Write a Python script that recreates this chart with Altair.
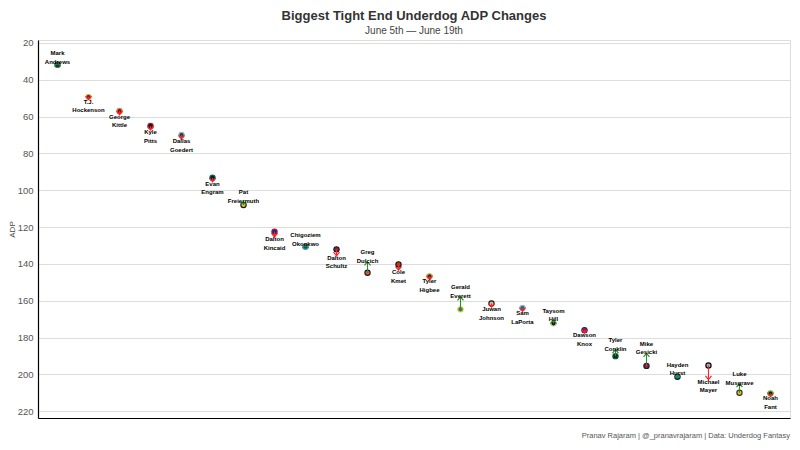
import altair as alt
import pandas as pd

first_names = ["Mark", "T.J.", "George", "Kyle", "Dallas", "Evan", "Pat", "Dalton",
               "Chigoziem", "Dalton", "Greg", "Cole", "Tyler", "Gerald", "Juwan", "Sam",
               "Taysom", "Dawson", "Tyler", "Mike", "Hayden", "Michael", "Luke", "Noah"]
last_names = ["Andrews", "Hockenson", "Kittle", "Pitts", "Goedert", "Engram", "Freiermuth",
              "Kincaid", "Okonkwo", "Schultz", "Dulcich", "Kmet", "Higbee", "Everett",
              "Johnson", "LaPorta", "Hill", "Knox", "Conklin", "Gesicki", "Hurst", "Mayer",
              "Musgrave", "Fant"]
adp_june5 = [31.8, 49.3, 57.0, 65.1, 70.0, 93.2, 108.0, 122.5, 130.7, 132.1, 144.8, 140.3,
             146.8, 164.7, 161.5, 163.9, 172.3, 176.0, 190.1, 195.4, 201.3, 195.2, 210.0, 210.4]
adp_june19 = [30.8, 50.8, 59.0, 67.3, 72.2, 95.4, 106.2, 125.4, 129.5, 135.6, 138.9, 143.4,
              148.3, 157.9, 163.5, 165.7, 170.5, 177.6, 186.5, 188.6, 199.9, 202.8, 205.0, 211.9]
team_fill = ["#241773", "#4F2683", "#AA0000", "#111111", "#004C54", "#101820", "#FFB612",
             "#00338D", "#0C5A5A", "#A71930", "#FB4F14", "#C83803", "#003594", "#0080C6",
             "#D3BC8D", "#0076B6", "#101820", "#C60C30", "#0B2E20", "#C60C30", "#0085CA",
             "#A5ACAF", "#FFB612", "#002244"]
team_stroke = ["#1a5c1a", "#FFC62F", "#B3995D", "#A71930", "#A5ACAF", "#006778", "#101820",
               "#C60C30", "#4B92DB", "#03202F", "#002244", "#0B162A", "#FFA300", "#FFC20E",
               "#101820", "#B0B7BC", "#D3BC8D", "#00338D", "#125740", "#002244", "#101820",
               "#000000", "#203731", "#69BE28"]
y_ticks = [20, 40, 60, 80, 100, 120, 140, 160, 180, 200, 220]

caption = "Pranav Rajaram | @_pranavrajaram | Data: Underdog Fantasy"

df = pd.DataFrame({
    "first": first_names,
    "last": last_names,
    "start": adp_june5,
    "end": adp_june19,
    "fill": team_fill,
    "stroke": team_stroke,
})
df["player"] = df["first"] + " " + df["last"]
df["label"] = df["first"] + "\n" + df["last"]
df["dir"] = ["down" if e > s else "up" for s, e in zip(df["start"], df["end"])]

order = list(df["player"])
FONT = "Liberation Sans"

xaxis = alt.Axis(labels=False, ticks=False, title=None, grid=False,
                 domainColor="#000000", domainWidth=1.2)
xscale = alt.Scale(type="point", padding=0.63)
yscale = alt.Scale(domain=[18.4, 223.7], reverse=True, nice=False, zero=False)
yaxis = alt.Axis(values=y_ticks, tickCount=11,
                 title="ADP", titleFont=FONT, titleFontSize=8, titleFontWeight="normal",
                 titleColor="#444", titlePadding=1,
                 labelFont=FONT, labelFontSize=9.5, labelColor="#555", labelPadding=5,
                 labelOverlap=False,
                 ticks=False, grid=True, gridColor="#dddddd", gridWidth=1,
                 domainColor="#000000", domainWidth=1.2)


def X():
    return alt.X("player:N", sort=order, scale=xscale, axis=xaxis)


def Y(field):
    return alt.Y(field, scale=yscale, axis=yaxis, title="ADP")


base = alt.Chart(df)

points = base.mark_point(filled=True, size=28, strokeWidth=1.1, opacity=1).encode(
    x=X(),
    y=Y("start:Q"),
    fill=alt.Fill("fill:N", scale=None),
    stroke=alt.Stroke("stroke:N", scale=None),
)

arrow_color = alt.Color("dir:N", scale=alt.Scale(domain=["down", "up"],
                                                  range=["#ff2020", "#2e8b2e"]), legend=None)

shafts = base.mark_rule(strokeWidth=1.1).encode(
    x=X(),
    y=Y("start:Q"),
    y2="end:Q",
    color=arrow_color,
)

heads = base.mark_point(filled=False, size=36, strokeWidth=1.2, opacity=1).encode(
    x=X(),
    y=Y("end:Q"),
    color=arrow_color,
    shape=alt.Shape("dir:N", scale=alt.Scale(domain=["down", "up"],
                                             range=["M-1,-1.2L0,0L1,-1.2", "M-1,1.2L0,0L1,1.2"]),
                    legend=None),
)

labels_down = base.transform_filter(alt.datum.dir == "down").mark_text(
    baseline="top", align="center", dy=-1, fontSize=6, fontWeight="bold",
    lineBreak="\n", lineHeight=8.5, font=FONT, fill="#000000"
).encode(x=X(), y=Y("end:Q"), text="label:N")

labels_up = base.transform_filter(alt.datum.dir == "up").mark_text(
    baseline="bottom", align="center", dy=-6.5, fontSize=6, fontWeight="bold",
    lineBreak="\n", lineHeight=8.5, font=FONT, fill="#000000"
).encode(x=X(), y=Y("end:Q"), text="label:N")

cap = alt.Chart(pd.DataFrame({"t": [caption]})).mark_text(
    align="right", baseline="middle", fontSize=7.5, font=FONT, fill="#555555"
).encode(x=alt.value(752), y=alt.value(396), text="t:N")

chart = alt.layer(points, shafts, heads, labels_down, labels_up, cap).properties(
    width=752, height=378,
    autosize=alt.AutoSizeParams(type="none"),
    padding={"left": 30, "top": 32, "right": 2, "bottom": 24},
    title=alt.TitleParams("Biggest Tight End Underdog ADP Changes",
                          subtitle="June 5th \u2014 June 19th",
                          anchor="middle", font=FONT, fontSize=13, fontWeight="bold",
                          color="#333333", subtitleFont=FONT, subtitleFontSize=10,
                          subtitleColor="#444444", offset=2, subtitlePadding=3),
).configure_view(stroke=None).configure(background="white")

chart.save("out.html", embed_options={"renderer": "svg", "actions": False})
